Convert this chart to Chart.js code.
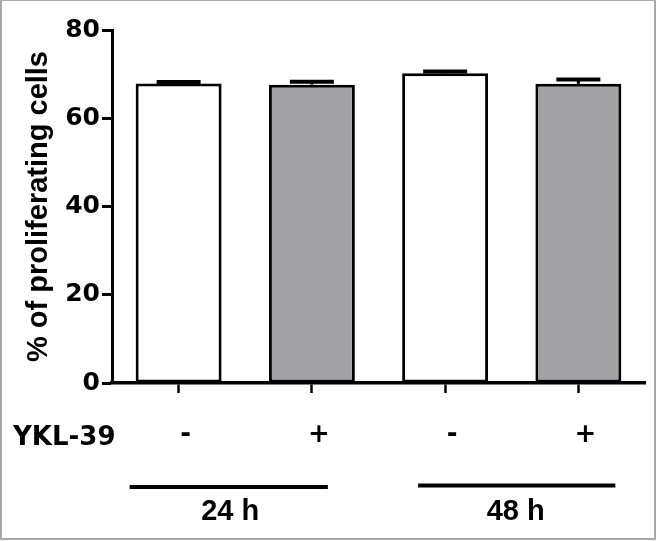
<!DOCTYPE html>
<html>
<head>
<meta charset="utf-8">
<script src="https://cdn.jsdelivr.net/npm/chart.js@4.4.1/dist/chart.umd.min.js"></script>
<style>
  html, body { margin: 0; padding: 0; background: #fff; }
  #wrap { width: 657px; height: 541px; }
</style>
</head>
<body>
<div id="wrap"><canvas id="c" width="657" height="541"></canvas></div>
<script>
// ---- data ----
const categories = ['-', '+', '-', '+'];
const meanValues = [67.9, 67.6, 70.2, 67.8];
const semValues = [0.3, 0.7, 0.4, 1.0];
const yTickValues = [0, 20, 40, 60, 80];
const treatmentLabel = 'YKL-39';
const groupLabels = ['24 h', '48 h'];
const groupStart = [0, 2];
const groupEnd = [1, 3];
const yAxisTitle = '% of proliferating cells';

// ---- styles ----
const WIDE = '"DejaVu Sans", "Liberation Sans", Arial, sans-serif';
const NARROW = '"Liberation Sans", Arial, Helvetica, sans-serif';
const barFill = ['#ffffff', '#a2a2a5', '#ffffff', '#a2a2a5'];
const groupLineOffsets = [[-49, 16], [-27, 37]];
const groupTextOffsets = [ -15, 4 ];

const background = {
  id: 'background',
  beforeDraw(chart) {
    const ctx = chart.ctx;
    ctx.save();
    ctx.fillStyle = '#fff';
    ctx.fillRect(0, 0, chart.width, chart.height);
    ctx.strokeStyle = '#a8a8a8';
    ctx.lineWidth = 2;
    ctx.strokeRect(1, 0, chart.width - 3, chart.height - 2);
    ctx.restore();
  }
};

const errorBars = {
  id: 'errorBars',
  afterDatasetsDraw(chart) {
    const ctx = chart.ctx;
    const y = chart.scales.y;
    const meta = chart.getDatasetMeta(0);
    ctx.save();
    ctx.strokeStyle = '#000';
    meta.data.forEach((bar, i) => {
      const yTop = y.getPixelForValue(meanValues[i] + semValues[i]);
      const yBase = y.getPixelForValue(meanValues[i]);
      ctx.lineWidth = 3;
      ctx.beginPath();
      ctx.moveTo(bar.x, yBase);
      ctx.lineTo(bar.x, yTop);
      ctx.stroke();
      ctx.lineWidth = 4;
      ctx.beginPath();
      ctx.moveTo(bar.x - 22, yTop);
      ctx.lineTo(bar.x + 22, yTop);
      ctx.stroke();
    });
    ctx.restore();
  }
};

const annotations = {
  id: 'annotations',
  afterDraw(chart) {
    const ctx = chart.ctx;
    const x = chart.scales.x;
    ctx.save();
    ctx.fillStyle = '#000';
    ctx.font = 'bold 26px ' + WIDE;
    ctx.textAlign = 'left';
    ctx.textBaseline = 'middle';
    ctx.fillText(treatmentLabel, 13, 438);

    groupLabels.forEach((lab, g) => {
      const x1 = x.getPixelForValue(groupStart[g]) + groupLineOffsets[g][0];
      const x2 = x.getPixelForValue(groupEnd[g]) + groupLineOffsets[g][1];
      const ly = 487 - g * 1.5;
      ctx.strokeStyle = '#000';
      ctx.lineWidth = 4;
      ctx.beginPath();
      ctx.moveTo(x1, ly);
      ctx.lineTo(x2, ly);
      ctx.stroke();
      const cx = (x.getPixelForValue(groupStart[g]) + x.getPixelForValue(groupEnd[g])) / 2 + groupTextOffsets[g];
      ctx.font = 'bold 29px ' + NARROW;
      ctx.textAlign = 'center';
      ctx.textBaseline = 'middle';
      ctx.fillText(lab, cx, 512);
    });
    ctx.restore();
  }
};

new Chart(document.getElementById('c'), {
  type: 'bar',
  data: {
    labels: categories,
    datasets: [{
      data: meanValues,
      backgroundColor: barFill,
      borderColor: '#000',
      borderWidth: 3,
      borderSkipped: false,
      categoryPercentage: 1.0,
      barPercentage: 0.645
    }]
  },
  options: {
    responsive: false,
    animation: false,
    devicePixelRatio: 1,
    layout: { padding: { left: 0, right: 12, top: 30, bottom: 0 } },
    plugins: { legend: { display: false }, tooltip: { enabled: false } },
    scales: {
      x: {
        type: 'category',
        offset: true,
        grid: { display: true, drawOnChartArea: false, drawTicks: true, offset: false,
                tickLength: 10, tickWidth: 2.5, tickColor: '#000', color: '#000' },
        border: { display: true, color: '#000', width: 3.5 },
        ticks: { color: '#000', padding: 27, labelOffset: 7,
                 font: { family: WIDE, size: 26, weight: 'bold' } },
        afterFit(scale) { scale.height = 158; }
      },
      y: {
        min: 0, max: 80,
        afterBuildTicks(scale) { scale.ticks = yTickValues.map(v => ({ value: v })); },
        grid: { display: true, drawOnChartArea: false, drawTicks: true,
                tickLength: 10, tickWidth: 3, tickColor: '#000', color: '#000' },
        border: { display: true, color: '#000', width: 3 },
        ticks: { color: '#000', padding: 2,
                 font: { family: WIDE, size: 25, weight: 'bold' } },
        title: { display: true, text: yAxisTitle, color: '#000',
                 padding: { top: 22, bottom: 0 },
                 font: { family: NARROW, size: 29, weight: 'bold' } },
        afterFit(scale) { scale.width = 112; }
      }
    }
  },
  plugins: [background, errorBars, annotations]
});
</script>
</body>
</html>
